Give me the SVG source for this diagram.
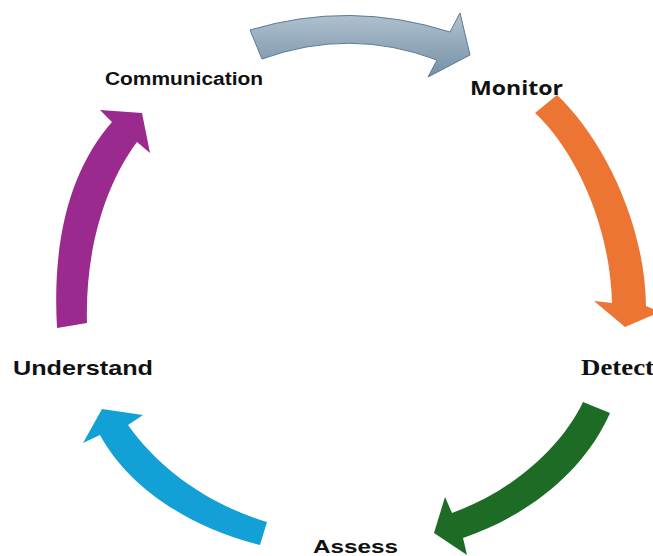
<svg xmlns="http://www.w3.org/2000/svg" width="653" height="556" viewBox="0 0 653 556">
  <defs>
    <linearGradient id="steel" x1="0" y1="0" x2="0" y2="1">
      <stop offset="0" stop-color="#b0c2d0"/>
      <stop offset="1" stop-color="#7590a6"/>
    </linearGradient>
    <style>
      .lbl { font-family: "Liberation Sans", Arial, sans-serif; font-weight: bold; fill: #111; }
      .lbl-os { font-family: "Open Sans", "Liberation Sans", sans-serif; font-weight: bold; fill: #111; }
      .lbl-serif { font-family: "Liberation Serif", "Times New Roman", serif; font-weight: bold; fill: #111; }
    </style>
  </defs>
  <rect width="653" height="556" fill="#ffffff"/>

  <!-- stage labels -->
  <g id="communication">
    <text class="lbl" x="105" y="84.5" font-size="18" textLength="158" lengthAdjust="spacingAndGlyphs">Communication</text>
  </g>
  <g id="monitor">
    <text class="lbl-os" x="470" y="95" font-size="19.5" textLength="93" lengthAdjust="spacingAndGlyphs">Monitor</text>
  </g>
  <g id="detect">
    <text class="lbl-serif" x="581" y="375" font-size="23" textLength="73" lengthAdjust="spacingAndGlyphs">Detect</text>
  </g>
  <g id="assess">
    <text class="lbl" x="313" y="552.5" font-size="18" textLength="85" lengthAdjust="spacingAndGlyphs">Assess</text>
  </g>
  <g id="understand">
    <text class="lbl" x="13" y="375" font-size="20.5" textLength="140" lengthAdjust="spacingAndGlyphs">Understand</text>
  </g>

  <!-- curved cycle arrows -->
  <g id="connectors">
    <path d="M 250 30 Q 350 0 450 32 L 460 13 L 470 55 L 428 77 L 437 60 Q 350 27 262 59 Z" fill="url(#steel)" stroke="#5a7b95" stroke-width="1"/>
    <path d="M 535 113 L 557 95 C 600 135 645 220 646 306 L 660 312 L 625 327 L 594 301 L 612 303 C 610 222 573 148 535 113 Z" fill="#ec7533"/>
    <path d="M 583 402 L 610 413 C 585 470 530 515 463 538 L 467 555 L 434 533 L 445 497 L 452 513 C 510 492 560 450 583 402 Z" fill="#1d6b24"/>
    <path d="M 260 545 L 267 522 C 210 505 160 470 128 425 L 143 415 L 102 409 L 83 443 L 100 435 C 128 487 190 528 260 545 Z" fill="#13a0d7"/>
    <path d="M 57 328 C 52 240 70 170 112 122 L 100 110 L 142 113 L 150 153 L 137 142 C 105 185 85 250 87 323 Z" fill="#9b2a8e"/>
  </g>
</svg>
